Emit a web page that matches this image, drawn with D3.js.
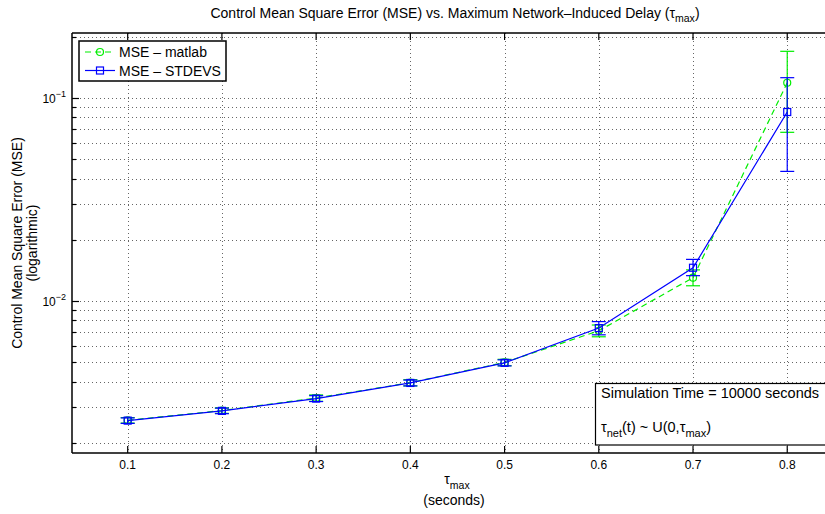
<!DOCTYPE html>
<html>
<head>
<meta charset="utf-8">
<script src="https://cdn.jsdelivr.net/npm/d3@7"></script>
<style>
body { margin: 0; background: #fff; }
text { font-family: "Liberation Sans", Arial, Helvetica, sans-serif; fill: #000; }
</style>
</head>
<body>
<svg id="chart" width="825" height="514"></svg>
<script>
// tau_max values (seconds)
const tau = [0.1, 0.2, 0.3, 0.4, 0.5, 0.6, 0.7, 0.8];
const xTicks = [0.1, 0.2, 0.3, 0.4, 0.5, 0.6, 0.7, 0.8];

// MSE - matlab (green) with error bar limits
const mseMatlab  = [0.00258, 0.00288, 0.00332, 0.00395, 0.00497, 0.00712, 0.0130, 0.1186];
const matlabLow  = [0.00250, 0.00279, 0.00320, 0.00381, 0.00479, 0.00665, 0.01186, 0.0676];
const matlabHigh = [0.00266, 0.00297, 0.00344, 0.00409, 0.00515, 0.00760, 0.01420, 0.1694];

// MSE - STDEVS (blue) with error bar limits
const mseStdevs  = [0.00257, 0.00287, 0.00330, 0.00394, 0.00495, 0.00734, 0.01455, 0.0851];
const stdevsLow  = [0.00249, 0.00278, 0.00319, 0.00381, 0.00478, 0.00680, 0.0133, 0.0434];
const stdevsHigh = [0.00265, 0.00296, 0.00341, 0.00407, 0.00512, 0.00790, 0.0160, 0.1256];

const yDecades = [0.01, 0.1];

let svg = d3.select('#chart');
const pLeft = 72, pRight = 840, pTop = 33, pBottom = 453;

let x = d3.scaleLinear().domain([0.0409, 0.856]).range([pLeft, pRight]);
let y = d3.scaleLog().domain([0.00178, 0.2085]).range([pBottom, pTop]);

// minor log values inside the range
let yMinor = [];
[0.001, 0.01, 0.1].forEach(d => {
	for (let k = 1; k <= 9; k++) {
		let v = d * k;
		if (v >= y.domain()[0] && v <= y.domain()[1]) yMinor.push(v);
	}
});

// grid
let grid = svg.append('g');
grid.selectAll('.vg')
	.data(xTicks)
	.enter()
	.append('line')
	.attr('x1', d => Math.round(x(d)) + 0.5).attr('x2', d => Math.round(x(d)) + 0.5)
	.attr('y1', pTop).attr('y2', pBottom)
	.attr('stroke', '#666').attr('stroke-width', 1)
	.attr('stroke-dasharray', '1,3');
grid.selectAll('.hg')
	.data(yMinor)
	.enter()
	.append('line')
	.attr('x1', pLeft).attr('x2', pRight)
	.attr('y1', d => Math.round(y(d)) + 0.5).attr('y2', d => Math.round(y(d)) + 0.5)
	.attr('stroke', '#666').attr('stroke-width', 1)
	.attr('stroke-dasharray', '1,3');

// axes box
svg.append('line').attr('x1', pLeft).attr('x2', pRight).attr('y1', pBottom).attr('y2', pBottom)
	.attr('stroke', '#000').attr('stroke-width', 1.5);
svg.append('line').attr('x1', pLeft).attr('x2', pRight).attr('y1', pTop).attr('y2', pTop)
	.attr('stroke', '#000').attr('stroke-width', 1.5);
svg.append('line').attr('x1', pLeft).attr('x2', pLeft).attr('y1', pTop).attr('y2', pBottom)
	.attr('stroke', '#000').attr('stroke-width', 1.5);

// x ticks (inward) bottom and top
let ticks = svg.append('g').attr('stroke', '#000').attr('stroke-width', 1.2);
xTicks.forEach(d => {
	ticks.append('line').attr('x1', x(d)).attr('x2', x(d)).attr('y1', pBottom).attr('y2', pBottom - 7);
	ticks.append('line').attr('x1', x(d)).attr('x2', x(d)).attr('y1', pTop).attr('y2', pTop + 7);
});
// y ticks (inward)
yMinor.forEach(d => {
	let major = yDecades.indexOf(d) >= 0;
	ticks.append('line').attr('x1', pLeft).attr('x2', pLeft + (major ? 7 : 4))
		.attr('y1', Math.round(y(d)) + 0.5).attr('y2', Math.round(y(d)) + 0.5);
});

// x tick labels
svg.append('g').selectAll('text')
	.data(xTicks)
	.enter()
	.append('text')
	.attr('x', d => x(d))
	.attr('y', 469)
	.attr('text-anchor', 'middle')
	.attr('font-size', 12)
	.text(d => d3.format('.1f')(d));

// y tick labels 10^-k
yDecades.forEach(d => {
	let t = svg.append('text')
		.attr('x', 66)
		.attr('y', y(d) + 5)
		.attr('text-anchor', 'end')
		.attr('font-size', 12);
	t.append('tspan').text('10');
	t.append('tspan').attr('dy', -6).attr('font-size', 9).text('\u2212' + Math.round(-Math.log10(d)));
});

// titles
let title = svg.append('text').attr('x', 455).attr('y', 18).attr('text-anchor', 'middle').attr('font-size', 14);
title.append('tspan').text('Control Mean Square Error (MSE) vs. Maximum Network\u2013Induced Delay (\u03c4');
title.append('tspan').attr('dy', 4).attr('font-size', 10.5).text('max');
title.append('tspan').attr('dy', -4).text(')');

let xl = svg.append('text').attr('x', 457).attr('y', 484).attr('text-anchor', 'middle').attr('font-size', 14);
xl.append('tspan').text('\u03c4');
xl.append('tspan').attr('dy', 5).attr('font-size', 10.5).text('max');
svg.append('text').attr('x', 454).attr('y', 505).attr('text-anchor', 'middle').attr('font-size', 14)
	.text('(seconds)');

svg.append('text').attr('transform', 'translate(22,243) rotate(-90)').attr('text-anchor', 'middle')
	.attr('font-size', 14).text('Control Mean Square Error (MSE)');
svg.append('text').attr('transform', 'translate(37,243) rotate(-90)').attr('text-anchor', 'middle')
	.attr('font-size', 14).text('(logarithmic)');

// series
const series = [
	{name: 'MSE \u2013 matlab', color: '#00ee00', dash: '6,4', vals: mseMatlab, lo: matlabLow, hi: matlabHigh, marker: 'circle'},
	{name: 'MSE \u2013 STDEVS', color: '#0000ff', dash: null, vals: mseStdevs, lo: stdevsLow, hi: stdevsHigh, marker: 'square'}
];

let line = d3.line().x(d => x(d[0])).y(d => y(d[1]));

series.forEach(s => {
	let g = svg.append('g');
	let pts = tau.map((t, i) => [t, s.vals[i], s.lo[i], s.hi[i]]);
	// error bars
	let eb = g.selectAll('.eb').data(pts).enter().append('g').attr('stroke', s.color).attr('stroke-width', 1.2);
	eb.append('line').attr('x1', d => x(d[0])).attr('x2', d => x(d[0]))
		.attr('y1', d => y(d[2])).attr('y2', d => y(d[3]));
	eb.append('line').attr('x1', d => x(d[0]) - 7).attr('x2', d => x(d[0]) + 7)
		.attr('y1', d => y(d[2])).attr('y2', d => y(d[2]));
	eb.append('line').attr('x1', d => x(d[0]) - 7).attr('x2', d => x(d[0]) + 7)
		.attr('y1', d => y(d[3])).attr('y2', d => y(d[3]));
	// line
	g.append('path').datum(pts)
		.attr('d', line)
		.attr('fill', 'none')
		.attr('stroke', s.color)
		.attr('stroke-width', 1.2)
		.attr('stroke-dasharray', s.dash);
	// markers
	if (s.marker === 'circle') {
		g.selectAll('.m').data(pts).enter().append('circle')
			.attr('cx', d => x(d[0])).attr('cy', d => y(d[1])).attr('r', 3.5)
			.attr('fill', 'none').attr('stroke', s.color).attr('stroke-width', 1.2);
	} else {
		g.selectAll('.m').data(pts).enter().append('rect')
			.attr('x', d => x(d[0]) - 3.5).attr('y', d => y(d[1]) - 3.5)
			.attr('width', 7).attr('height', 7)
			.attr('fill', 'none').attr('stroke', s.color).attr('stroke-width', 1.2);
	}
});

// legend
let lg = svg.append('g');
lg.append('rect').attr('x', 79).attr('y', 41).attr('width', 147).attr('height', 40)
	.attr('fill', '#fff').attr('stroke', '#000').attr('stroke-width', 1.5);
series.forEach((s, i) => {
	let ly = 52 + i * 18.5;
	lg.append('line').attr('x1', 85).attr('x2', 115).attr('y1', ly).attr('y2', ly)
		.attr('stroke', s.color).attr('stroke-width', 1.2).attr('stroke-dasharray', s.dash);
	if (s.marker === 'circle') {
		lg.append('circle').attr('cx', 100).attr('cy', ly).attr('r', 3.5)
			.attr('fill', 'none').attr('stroke', s.color).attr('stroke-width', 1.2);
	} else {
		lg.append('rect').attr('x', 96.5).attr('y', ly - 3.5).attr('width', 7).attr('height', 7)
			.attr('fill', 'none').attr('stroke', s.color).attr('stroke-width', 1.2);
	}
	lg.append('text').attr('x', 119).attr('y', ly + 5).attr('font-size', 14).text(s.name);
});

// annotation box
let an = svg.append('g');
an.append('rect').attr('x', 595.5).attr('y', 383.5).attr('width', 260).attr('height', 61.5)
	.attr('fill', '#fff').attr('stroke', '#000').attr('stroke-width', 1.2);
an.append('text').attr('x', 601).attr('y', 398).attr('font-size', 14.5).text('Simulation Time = 10000 seconds');
let a2 = an.append('text').attr('x', 601).attr('y', 432).attr('font-size', 14.5);
a2.append('tspan').text('\u03c4');
a2.append('tspan').attr('dy', 5).attr('font-size', 11).text('net');
a2.append('tspan').attr('dy', -5).text('(t) ~ U(0,\u03c4');
a2.append('tspan').attr('dy', 5).attr('font-size', 11).text('max');
a2.append('tspan').attr('dy', -5).text(')');
</script>
</body>
</html>
